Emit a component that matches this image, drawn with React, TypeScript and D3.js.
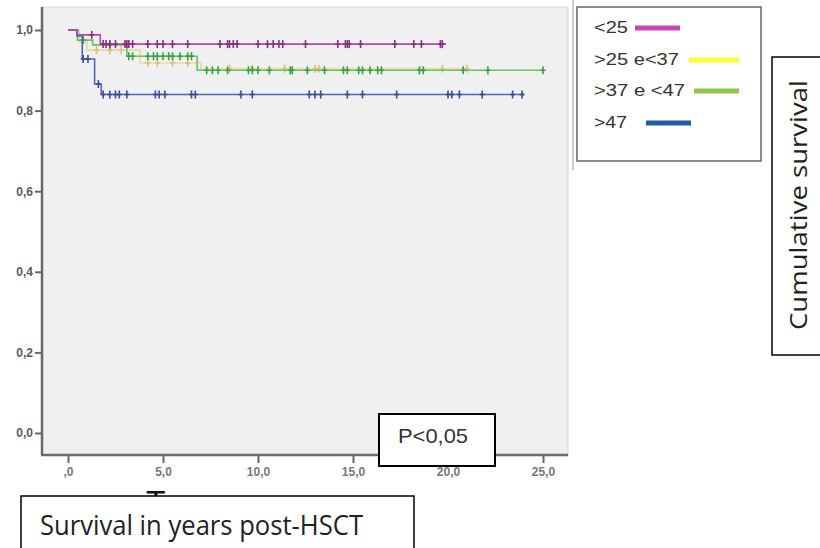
import React, { useRef, useEffect } from 'react';
import * as d3 from 'd3';

// legend / group names
const groups = ['<25', '>25 e<37', '>37 e <47', '>47'];

// step times (years) and survival after each step
const lt25Times = [0, 0.5, 1.7];
const lt25Surv = [1, 0.988, 0.965];
const lt25Censor = [1.25, 1.85, 2.0, 2.2, 2.5, 3.0, 3.1, 3.2, 3.4, 4.2, 4.7, 5.0, 5.5, 6.3, 8.0, 8.4, 8.5, 8.7, 8.9, 10.0, 10.5, 10.8, 11.1, 11.3, 12.5, 14.2, 14.6, 14.7, 14.8, 15.4, 17.2, 18.2, 18.6, 19.6, 19.7];
const lt25End = 19.9;

const m25Times = [0, 0.6, 1.0, 3.8, 7.0];
const m25Surv = [1, 0.97, 0.95, 0.918, 0.904];
const m25Censor = [1.5, 2.2, 2.8, 4.2, 4.7, 5.5, 6.3, 8.5, 9.7, 11.4, 13.0, 13.2, 19.7, 21.0];
const m25End = 21.0;

const m37Times = [0, 0.5, 1.3, 3.1, 6.8];
const m37Surv = [1, 0.975, 0.963, 0.935, 0.9];
const m37Censor = [0.8, 2.2, 3.2, 3.4, 4.2, 4.5, 4.7, 5.0, 5.3, 5.5, 5.9, 6.3, 6.5, 7.3, 7.6, 7.9, 8.4, 9.5, 9.7, 10.0, 10.6, 11.7, 11.8, 12.6, 13.5, 14.5, 14.7, 15.3, 15.5, 15.9, 16.3, 16.5, 18.5, 18.7, 20.8, 22.1, 25.0];
const m37End = 25.0;

const gt47Times = [0, 0.47, 0.75, 1.4, 1.75];
const gt47Surv = [1, 0.985, 0.928, 0.866, 0.84];
const gt47Censor = [0.8, 1.05, 1.6, 1.85, 2.2, 2.5, 2.7, 3.1, 4.6, 4.8, 5.1, 6.5, 6.7, 9.1, 9.7, 12.7, 13.0, 13.3, 14.7, 15.5, 17.3, 20.0, 20.2, 20.6, 21.8, 23.4, 23.9];
const gt47End = 24.0;

const xTicks = [0, 5, 10, 15, 20, 25];
const xTickLabels = [',0', '5,0', '10,0', '15,0', '20,0', '25,0'];
const yTicks = [0, 0.2, 0.4, 0.6, 0.8, 1.0];
const yTickLabels = ['0,0', '0,2', '0,4', '0,6', '0,8', '1,0'];

const series = [
  { times: m25Times, surv: m25Surv, censor: m25Censor, end: m25End, line: '#ecd99c', mark: '#dcc078' },
  { times: m37Times, surv: m37Surv, censor: m37Censor, end: m37End, line: '#62c462', mark: '#3d9e45' },
  { times: gt47Times, surv: gt47Surv, censor: gt47Censor, end: gt47End, line: '#5066b8', mark: '#3a4c9c' },
  { times: lt25Times, surv: lt25Surv, censor: lt25Censor, end: lt25End, line: '#b24ba4', mark: '#8c2d84' },
];

const legendColors = ['#cc45b8', '#ffff33', '#8dc64b', '#1d5e9c'];

const W = 820, H = 548;
const plot = { left: 42, right: 568, top: 7, bottom: 455 };

const x = d3.scaleLinear().domain([0, 25]).range([68, 543]);
const y = d3.scaleLinear().domain([0, 1]).range([433, 30]);

const survAt = (times, surv, t) => {
  let s = surv[0];
  for (let i = 0; i < times.length; i++) if (times[i] <= t) s = surv[i];
  return s;
};

const App = () => {
  const xAxisRef = useRef(null);
  const yAxisRef = useRef(null);

  useEffect(() => {
    const xa = d3.select(xAxisRef.current);
    xa.selectAll('*').remove();
    xa.call(d3.axisBottom(x).tickValues(xTicks).tickFormat((d, i) => xTickLabels[i]).tickSize(8).tickPadding(4));
    const ya = d3.select(yAxisRef.current);
    ya.selectAll('*').remove();
    ya.call(d3.axisLeft(y).tickValues(yTicks).tickFormat((d, i) => yTickLabels[i]).tickSize(7).tickPadding(2));
    [xa, ya].forEach(a => {
      a.select('.domain').remove();
      a.selectAll('line').attr('stroke', '#666').attr('stroke-width', 2);
      a.selectAll('text').attr('fill', '#5a5a5a').attr('font-size', 12).attr('font-weight', 'bold')
        .attr('font-family', '"Liberation Sans", Arial, sans-serif');
    });
    xa.selectAll('text').attr('fill', '#777');
  }, []);

  const line = d3.line().x(d => x(d[0])).y(d => y(d[1])).curve(d3.curveStepAfter);

  return (
    <svg width={W} height={H} style={{ position: 'absolute', left: 0, top: 0, background: '#fff' }}>
      <defs>
        <clipPath id="titleClip"><rect x={0} y={480} width={420} height={16} /></clipPath>
      </defs>
      <rect x={plot.left} y={plot.top} width={plot.right - plot.left} height={plot.bottom - plot.top} fill="#f0f0f0" stroke="#d4d4d4" />
      <line x1={573} x2={573} y1={0} y2={170} stroke="#999" strokeWidth={1} />

      {series.map((s, i) => {
        const pts = s.times.map((t, j) => [t, s.surv[j]]);
        pts.push([s.end, s.surv[s.surv.length - 1]]);
        return (
          <g key={i}>
            <path d={line(pts)} fill="none" stroke={s.line} strokeWidth={1.6} />
            {s.censor.map((t, j) => {
              const cx = x(t), cy = y(survAt(s.times, s.surv, t));
              return (
                <g key={j} stroke={s.mark} strokeWidth={1.6}>
                  <line x1={cx} x2={cx} y1={cy - 4} y2={cy + 4} />
                  <line x1={cx - 2.5} x2={cx + 2.5} y1={cy} y2={cy} />
                </g>
              );
            })}
          </g>
        );
      })}

      <line x1={plot.left} x2={plot.left} y1={plot.top} y2={plot.bottom} stroke="#6a6a6a" strokeWidth={2.5} />
      <line x1={plot.left - 1} x2={plot.right} y1={plot.bottom} y2={plot.bottom} stroke="#6a6a6a" strokeWidth={2.5} />
      <g ref={xAxisRef} transform={`translate(0,${plot.bottom})`} />
      <g ref={yAxisRef} transform={`translate(${plot.left},0)`} />

      {/* original axis title, hidden behind the box */}
      <g clipPath="url(#titleClip)">
        <text x={146} y={513} fontSize={32} fill="#111" fontFamily='"Liberation Sans", Arial, sans-serif'>Tempo em anos</text>
      </g>

      {/* legend */}
      <rect x={577} y={7} width={184} height={154} fill="#fff" stroke="#666" strokeWidth={1.5} />
      {groups.map((g, i) => {
        const ys = [33, 65, 96, 128][i];
        const lens = [34, 85, 91, 33][i];
        const lx = [[635, 680], [689, 739], [694, 739], [646, 691]][i];
        return (
          <g key={g}>
            <text x={594} y={ys} fontSize={17} fill="#333" textLength={lens} lengthAdjust="spacingAndGlyphs"
              fontFamily='"Liberation Sans", Arial, sans-serif'>{g}</text>
            <line x1={lx[0]} x2={lx[1]} y1={ys - 5} y2={ys - 5} stroke={legendColors[i]} strokeWidth={5} />
          </g>
        );
      })}

      {/* y title box */}
      <rect x={772} y={57} width={60} height={298} fill="#fff" stroke="#000" strokeWidth={1.5} />
      <text transform="translate(807,205) rotate(-90)" textAnchor="middle" fontSize={24} fill="#222"
        textLength={250} lengthAdjust="spacingAndGlyphs" fontFamily='"Open Sans", "Noto Sans", sans-serif'>Cumulative survival</text>

      {/* p value box */}
      <rect x={379} y={414} width={116} height={52} fill="#fff" stroke="#000" strokeWidth={2} />
      <text x={398} y={443} fontSize={21} fill="#333" textLength={70} lengthAdjust="spacingAndGlyphs"
        fontFamily='"Liberation Sans", Arial, sans-serif'>P&lt;0,05</text>

      {/* x title box */}
      <rect x={21} y={496} width={393} height={60} fill="#fff" stroke="#000" strokeWidth={1.5} />
      <text x={40} y={535} fontSize={27} fill="#222" textLength={323} lengthAdjust="spacingAndGlyphs"
        fontFamily='"Open Sans", "Noto Sans", sans-serif'>Survival in years post-HSCT</text>
    </svg>
  );
};

export default App;
